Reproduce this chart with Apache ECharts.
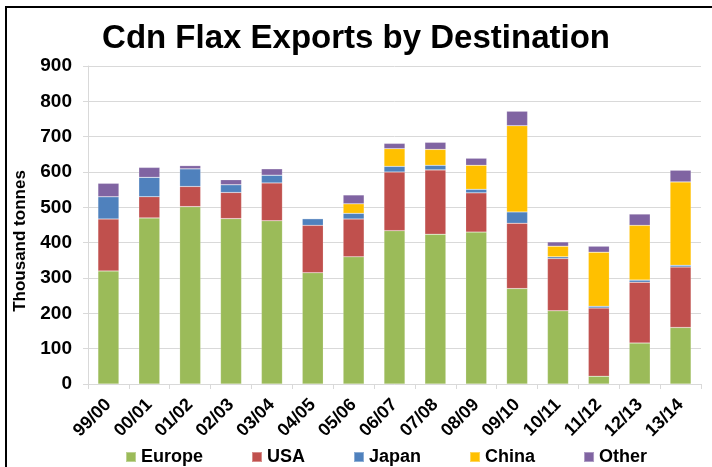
<!DOCTYPE html>
<html>
<head>
<meta charset="utf-8">
<script src="https://cdn.jsdelivr.net/npm/echarts@6/dist/echarts.min.js"></script>
<style>
  html, body { margin: 0; padding: 0; background: #fff; }
  #chart { width: 712px; height: 467px; }
</style>
</head>
<body>
<div id="chart"></div>
<script>
const categories = ['99/00','00/01','01/02','02/03','03/04','04/05','05/06','06/07','07/08','08/09','09/10','10/11','11/12','12/13','13/14'];
const europe = [320, 470, 502, 468, 462, 315, 360, 434, 424, 430, 270, 207, 22, 116, 160];
const usa    = [147,  60,  57,  74, 107, 134, 107, 166, 182, 111, 185, 148, 193, 172, 171];
const japan  = [ 63,  55,  50,  22,  22,  19,  16,  16,  13,  10,  32,   5,   5,   6,   5];
const china  = [  0,   0,   0,   0,   0,   0,  27,  50,  45,  68, 244,  30, 153, 155, 236];
const other  = [ 38,  28,   9,  14,  18,   0,  25,  15,  20,  20,  41,  12,  17,  32,  33];
const yTicks = { min: 0, max: 900, interval: 100 };

const FONT = '"Liberation Sans", Arial, sans-serif';
const chart = echarts.init(document.getElementById('chart'), null, { renderer: 'canvas' });

function mk(name, data, color) {
  return {
    name, type: 'bar', stack: 'total', data, barWidth: 21,
    itemStyle: { color, borderColor: 'rgba(255,255,255,0.35)', borderWidth: 0.5 },
    emphasis: { disabled: true }
  };
}

chart.setOption({
  animation: false,
  title: {
    text: 'Cdn Flax Exports by Destination',
    left: 'center', top: 17,
    textStyle: { fontFamily: FONT, fontWeight: 'bold', fontSize: 33, color: '#000' }
  },
  graphic: [
    { type: 'rect', shape: { x: 6, y: 7, width: 800, height: 600 },
      style: { fill: 'none', stroke: '#000', lineWidth: 2 }, silent: true },
    { type: 'text', x: 20, y: 241, rotation: Math.PI / 2,
      style: { text: 'Thousand tonnes', font: 'bold 17px ' + FONT, fill: '#000',
               textAlign: 'center', textVerticalAlign: 'middle' } }
  ],
  legend: {
    left: 125, top: 448, padding: 0, itemGap: 48, itemWidth: 10, itemHeight: 10,
    icon: 'rect',
    textStyle: { fontFamily: FONT, fontWeight: 'bold', fontSize: 18, color: '#000' },
    data: ['Europe','USA','Japan','China','Other']
  },
  grid: { left: 88, right: 11, top: 66, bottom: 83, containLabel: false },
  xAxis: {
    type: 'category', data: categories,
    axisLine: { lineStyle: { color: '#D9D9D9', width: 1 } },
    axisTick: { show: true, length: 5, lineStyle: { color: '#D9D9D9' } },
    axisLabel: { rotate: 45, margin: 18, fontFamily: FONT, fontWeight: 'bold', fontSize: 18, color: '#000' }
  },
  yAxis: {
    type: 'value', min: yTicks.min, max: yTicks.max, interval: yTicks.interval,
    axisLine: { show: true, lineStyle: { color: '#D9D9D9' } },
    axisTick: { show: true, length: 5, lineStyle: { color: '#D9D9D9' } },
    splitLine: { lineStyle: { color: '#D9D9D9', width: 1 } },
    axisLabel: { margin: 16, fontFamily: FONT, fontWeight: 'bold', fontSize: 19, color: '#000' }
  },
  series: [
    mk('Europe', europe, '#9BBB59'),
    mk('USA', usa, '#C0504D'),
    mk('Japan', japan, '#4F81BD'),
    mk('China', china, '#FFC000'),
    mk('Other', other, '#8064A2')
  ]
});
</script>
</body>
</html>
